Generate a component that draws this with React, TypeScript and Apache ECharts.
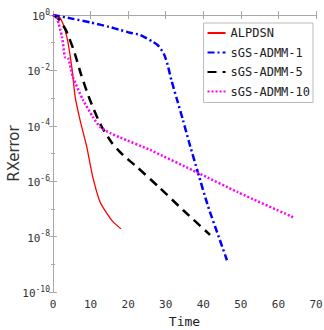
import React, { useEffect, useRef } from "react";
import * as echarts from "echarts";

const xTicks = [0, 10, 20, 30, 40, 50, 60, 70];
const yTickExponents = [-10, -8, -6, -4, -2, 0];

const alpdsnTime = [0, 1, 1.9, 2.6, 3.2, 4.0, 5.1, 5.9, 7.2, 9.0, 10.5, 12.5, 14.5, 16, 18.1];
const alpdsnErr = [1, 0.93, 0.78, 0.5, 0.29, 0.1, 1.05e-2, 1.1e-3, 1.6e-4, 1.7e-5, 1.6e-6, 1.8e-7, 6.3e-8, 3.4e-8, 1.9e-8];

const admm1Time = [0, 5, 10, 15, 17.8, 20.5, 23.2, 26.6, 28, 29.5, 30.5, 31.5, 33, 34.6, 36.2, 38.6, 41.3, 44.4, 46.3];
const admm1Err = [1, 0.74, 0.54, 0.37, 0.29, 0.23, 0.19, 0.107, 0.079, 0.04, 0.016, 4.5e-3, 8.9e-4, 1.6e-4, 2.6e-5, 2.0e-6, 1.2e-7, 7.6e-9, 1.4e-9];

const admm5Time = [0, 1.5, 3.4, 5.6, 7.6, 9.85, 12.7, 15.7, 18.6, 22.4, 28.5, 34.6, 41.8];
const admm5Err = [1, 0.71, 0.29, 0.05, 6.3e-3, 8.5e-4, 1.07e-4, 2.4e-5, 8.9e-6, 3.2e-6, 5.6e-7, 9.1e-8, 1.15e-8];

const admm10Time = [0, 1, 2.4, 3.2, 4.0, 5.3, 8.0, 10.6, 12.5, 15.2, 17.8, 25.8, 38.6, 49.2, 63.9];
const admm10Err = [1, 0.79, 0.16, 0.03, 0.028, 5.8e-3, 8.5e-4, 2.1e-4, 9.1e-5, 5.5e-5, 3.8e-5, 1.35e-5, 2.0e-6, 4.0e-7, 5.0e-8];

const seriesNames = ["ALPDSN", "sGS-ADMM-1", "sGS-ADMM-5", "sGS-ADMM-10"];

const toPairs = (t: number[], e: number[]) => t.map((x, i) => [x, Math.log10(e[i])]);

const mono = "DejaVu Sans Mono";

export default function App() {
  const ref = useRef<HTMLDivElement>(null);
  useEffect(() => {
    if (!ref.current) return;
    const chart = echarts.init(ref.current, undefined, { renderer: "svg" });
    const axisColor = "#a8a8a8";
    const labelColor = "#333";
    const mkSeries = (name: string, t: number[], e: number[], color: string, width: number, type: any) => ({
      name,
      type: "line",
      data: toPairs(t, e),
      symbol: "none",
      smooth: 0.2,
      lineStyle: { color, width, type },
      itemStyle: { color },
    });
    chart.setOption({
      animation: false,
      backgroundColor: "#fff",
      grid: { left: 53, right: 8, top: 15, bottom: 38, outerBoundsMode: "none", containLabel: false },
      legend: {
        orient: "vertical",
        right: 11,
        top: 23,
        data: seriesNames,
        backgroundColor: "#fff",
        borderColor: "#bbb",
        borderWidth: 1,
        borderRadius: 0,
        padding: [4, 3, 5, 3],
        itemWidth: 18,
        itemHeight: 12,
        itemGap: 7.5,
        itemStyle: { opacity: 0 },
        textStyle: { fontFamily: mono, fontSize: 12, color: "#222" },
      },
      xAxis: [
        {
          type: "value",
          min: 0,
          max: 70,
          interval: 10,
          name: "Time",
          nameLocation: "middle",
          nameGap: 23,
          nameMoveOverlap: false,
          nameTextStyle: { fontFamily: mono, fontSize: 13, color: "#222" },
          axisLine: { show: true, lineStyle: { color: axisColor } },
          axisTick: { show: true, inside: true, length: 4, lineStyle: { color: axisColor } },
          axisLabel: { fontFamily: mono, fontSize: 11, color: labelColor, margin: 7 },
          splitLine: { show: false },
        },
        {
          type: "value",
          position: "top",
          min: 0,
          max: 70,
          interval: 10,
          axisLine: { show: true, lineStyle: { color: axisColor } },
          axisTick: { show: true, inside: true, length: 4, lineStyle: { color: axisColor } },
          axisLabel: { show: false },
          splitLine: { show: false },
        },
      ],
      yAxis: [
        {
          type: "value",
          min: -10,
          max: 0,
          interval: 2,
          name: "RXerror",
          nameLocation: "middle",
          nameGap: 32,
          nameMoveOverlap: false,
          nameTextStyle: { fontFamily: "DejaVu Sans", fontSize: 15, color: "#333" },
          axisLine: { show: true, lineStyle: { color: axisColor } },
          axisTick: { show: true, inside: true, length: 4, lineStyle: { color: axisColor } },
          minorTick: { show: true, splitNumber: 2, length: 2, lineStyle: { color: axisColor } },
          axisLabel: {
            margin: 3,
            formatter: (v: number) => `{b|10}{s|${Math.round(v)}}`,
            rich: {
              b: { fontFamily: mono, fontSize: 11, color: labelColor, verticalAlign: "bottom", lineHeight: 14 },
              s: { fontFamily: mono, fontSize: 8, color: labelColor, verticalAlign: "top", lineHeight: 14, padding: [0, 0, 5, 0] },
            },
          },
          splitLine: { show: false },
        },
        {
          type: "value",
          position: "right",
          min: -10,
          max: 0,
          interval: 2,
          axisLine: { show: true, lineStyle: { color: axisColor } },
          axisTick: { show: true, inside: true, length: 4, lineStyle: { color: axisColor } },
          minorTick: { show: true, splitNumber: 2, length: 2, lineStyle: { color: axisColor } },
          axisLabel: { show: false },
          splitLine: { show: false },
        },
      ],
      series: [
        mkSeries(seriesNames[0], alpdsnTime, alpdsnErr, "#ff0000", 1.3, "solid"),
        mkSeries(seriesNames[1], admm1Time, admm1Err, "#0000ff", 2.5, [7, 3, 2, 3]),
        mkSeries(seriesNames[2], admm5Time, admm5Err, "#000000", 2.5, [9, 6]),
        mkSeries(seriesNames[3], admm10Time, admm10Err, "#ff00ff", 2.5, [2, 2]),
      ],
    });
    return () => chart.dispose();
  }, []);
  return <div ref={ref} style={{ position: "fixed", left: 0, top: 0, width: 324, height: 330 }} />;
}
